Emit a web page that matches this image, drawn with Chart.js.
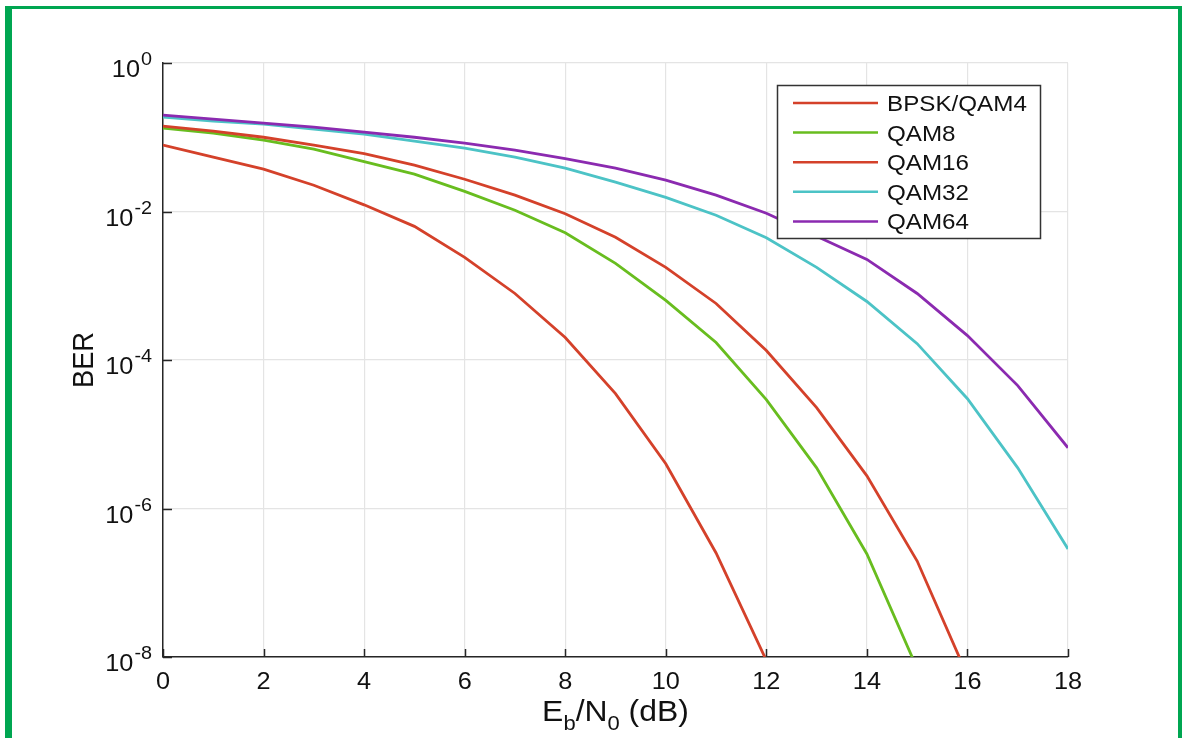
<!DOCTYPE html>
<html>
<head>
<meta charset="utf-8">
<title>BER vs Eb/N0</title>
<script src="https://cdn.jsdelivr.net/npm/chart.js@4.4.1/dist/chart.umd.min.js"></script>
<style>
  html, body { margin: 0; padding: 0; background: #fff; }
  #wrap { position: relative; width: 1182px; height: 738px; overflow: hidden; background: #fff; }
  #berChart { position: absolute; left: 0; top: 0; }
  .bar { position: absolute; background: #00a651; }
</style>
</head>
<body>
<div id="wrap">
  <canvas id="berChart" width="1182" height="738"></canvas>
  <div class="bar" style="left:5px; top:6px; width:7px; height:732px;"></div>
  <div class="bar" style="left:5px; top:6px; width:1177px; height:3px;"></div>
  <div class="bar" style="left:1178px; top:6px; width:4px; height:732px;"></div>
</div>
<script>
// Eb/N0 in dB
const ebn0 = [0, 1, 2, 3, 4, 5, 6, 7, 8, 9, 10, 11, 12, 13, 14, 15, 16, 17, 18];

// bit error rates per modulation
const berBpsk = [0.0782, 0.0539, 0.0371, 0.0226, 0.0123, 0.00631, 0.00241, 7.87e-4, 2.01e-4, 3.52e-5, 4.0e-6, 2.52e-7, 9.0e-9];
const berQam8 = [0.133, 0.114, 0.0914, 0.0691, 0.0469, 0.0318, 0.0187, 0.0104, 0.00516, 0.00200, 6.34e-4, 1.72e-4, 2.92e-5, 3.53e-6, 2.44e-7, 7.0e-9];
const berQam16 = [0.141, 0.121, 0.100, 0.0782, 0.0601, 0.0420, 0.0272, 0.0166, 0.00931, 0.00449, 0.00177, 5.77e-4, 1.34e-4, 2.28e-5, 2.75e-6, 1.96e-7, 5.6e-9];
const berQam32 = [0.187, 0.165, 0.150, 0.129, 0.110, 0.0886, 0.0713, 0.0539, 0.0383, 0.0248, 0.0155, 0.00889, 0.00442, 0.00177, 6.14e-4, 1.66e-4, 3.01e-5, 3.53e-6, 2.85e-7];
const berQam64 = [0.199, 0.175, 0.155, 0.137, 0.117, 0.100, 0.0833, 0.0670, 0.0514, 0.0383, 0.0264, 0.0166, 0.00946, 0.00463, 0.00226, 7.87e-4, 2.13e-4, 4.52e-5, 6.57e-6];

const seriesNames = ['BPSK/QAM4', 'QAM8', 'QAM16', 'QAM32', 'QAM64'];
const seriesColors = ['#d4412a', '#68bd1f', '#d4412a', '#4cc3c6', '#8b2ab0'];

const xTicks = [0, 2, 4, 6, 8, 10, 12, 14, 16, 18];
const yTicks = [1, 1e-2, 1e-4, 1e-6, 1e-8];

const FONT = '"Liberation Sans", Arial, Helvetica, sans-serif';
const SX = 1.1; // fonts in this figure run slightly wide

function toPoints(ys) {
  return ys.map((y, i) => ({ x: ebn0[i], y: y }));
}

// draws text slightly stretched horizontally, returns drawn width
function wideText(ctx, text, x, y, align, size) {
  ctx.save();
  ctx.font = size + 'px ' + FONT;
  const w = ctx.measureText(text).width * SX;
  let x0 = x;
  if (align === 'right') x0 = x - w;
  else if (align === 'center') x0 = x - w / 2;
  ctx.translate(x0, y);
  ctx.scale(SX, 1);
  ctx.textAlign = 'left';
  ctx.textBaseline = 'alphabetic';
  ctx.fillText(text, 0, 0);
  ctx.restore();
  return w;
}

function textWidth(ctx, text, size) {
  ctx.save();
  ctx.font = size + 'px ' + FONT;
  const w = ctx.measureText(text).width * SX;
  ctx.restore();
  return w;
}

const axisDecor = {
  id: 'axisDecor',
  afterDatasetsDraw(chart) {
    const ctx = chart.ctx;
    const area = chart.chartArea;
    const xs = chart.scales.x;
    const ys = chart.scales.y;

    // inward tick marks
    ctx.save();
    ctx.strokeStyle = '#262626';
    ctx.lineWidth = 1.5;
    ctx.beginPath();
    xTicks.forEach(v => {
      const px = Math.round(xs.getPixelForValue(v)) + 0.5;
      ctx.moveTo(px, area.bottom);
      ctx.lineTo(px, area.bottom - 8);
    });
    yTicks.forEach(v => {
      const py = Math.round(ys.getPixelForValue(v)) + 0.5;
      ctx.moveTo(area.left, py);
      ctx.lineTo(area.left + 9, py);
    });
    ctx.stroke();
    ctx.restore();
  },
  afterDraw(chart) {
    const ctx = chart.ctx;
    const area = chart.chartArea;
    const xs = chart.scales.x;
    const ys = chart.scales.y;
    ctx.save();
    ctx.fillStyle = '#111';

    // x tick labels
    xTicks.forEach(v => {
      wideText(ctx, String(v), xs.getPixelForValue(v), area.bottom + 32, 'center', 23);
    });

    // y tick labels as powers of ten
    yTicks.forEach(v => {
      const py = ys.getPixelForValue(v);
      const exp = String(Math.round(Math.log10(v)));
      const right = area.left - 11;
      const supW = wideText(ctx, exp, right, py + 2, 'right', 18);
      wideText(ctx, '10', right - supW - 1, py + 14, 'right', 23);
    });

    // x axis title with subscripts
    const parts = [
      { t: 'E', s: 29, dy: 0 },
      { t: 'b', s: 20, dy: 9 },
      { t: '/N', s: 29, dy: 0 },
      { t: '0', s: 20, dy: 9 },
      { t: ' (dB)', s: 29, dy: 0 }
    ];
    let total = 0;
    parts.forEach(p => { total += textWidth(ctx, p.t, p.s); });
    let cx = (area.left + area.right) / 2 - total / 2;
    parts.forEach(p => {
      cx += wideText(ctx, p.t, cx, area.bottom + 64 + p.dy, 'left', p.s);
    });

    // y axis title
    ctx.save();
    ctx.translate(93, (area.top + area.bottom) / 2);
    ctx.rotate(-Math.PI / 2);
    ctx.scale(1.05, SX);
    ctx.font = '26px ' + FONT;
    ctx.textAlign = 'center';
    ctx.fillText('BER', 0, 0);
    ctx.restore();

    // legend box in the upper right corner
    const lx = 777, ly = 85, lw = 263, lh = 153;
    ctx.fillStyle = '#fff';
    ctx.fillRect(lx, ly, lw, lh);
    ctx.strokeStyle = '#333';
    ctx.lineWidth = 1.5;
    ctx.strokeRect(lx + 0.5, ly + 0.5, lw, lh);
    chart.data.datasets.forEach((ds, i) => {
      const rowY = 103 + i * 29.6;
      ctx.strokeStyle = ds.borderColor;
      ctx.lineWidth = 2.5;
      ctx.beginPath();
      ctx.moveTo(793, rowY);
      ctx.lineTo(878, rowY);
      ctx.stroke();
      ctx.fillStyle = '#111';
      wideText(ctx, ds.label, 887, rowY + 8, 'left', 22);
    });
    ctx.restore();
  }
};

const berSets = [berBpsk, berQam8, berQam16, berQam32, berQam64];

new Chart(document.getElementById('berChart'), {
  type: 'line',
  data: {
    datasets: berSets.map((ys, i) => ({
      label: seriesNames[i],
      data: toPoints(ys),
      borderColor: seriesColors[i],
      backgroundColor: seriesColors[i],
      borderWidth: 2.8,
      pointRadius: 0,
      tension: 0,
      fill: false,
      clip: 0,
      order: berSets.length - i
    }))
  },
  options: {
    responsive: false,
    animation: false,
    devicePixelRatio: 1,
    layout: { padding: { left: 163, right: 114, top: 63, bottom: 81 } },
    plugins: {
      legend: { display: false },
      tooltip: { enabled: false }
    },
    scales: {
      x: {
        type: 'linear',
        min: 0,
        max: 18,
        afterBuildTicks: axis => { axis.ticks = xTicks.map(v => ({ value: v })); },
        ticks: { display: false },
        grid: { color: '#e4e4e4', lineWidth: 1.2, drawTicks: false },
        border: { color: '#262626', width: 1.5 }
      },
      y: {
        type: 'logarithmic',
        min: 1e-8,
        max: 1,
        afterBuildTicks: axis => { axis.ticks = yTicks.map(v => ({ value: v })); },
        ticks: { display: false },
        grid: { color: '#e4e4e4', lineWidth: 1.2, drawTicks: false },
        border: { color: '#262626', width: 1.5 }
      }
    }
  },
  plugins: [axisDecor]
});
</script>
</body>
</html>
